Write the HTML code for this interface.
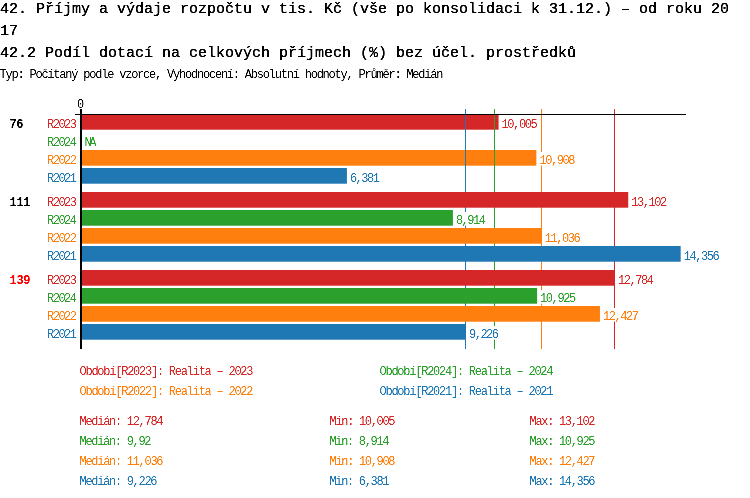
<!DOCTYPE html>
<html><head><meta charset="utf-8"><style>
html,body{margin:0;padding:0;background:#fff;width:750px;height:498px;overflow:hidden}
svg{display:block;will-change:transform}
text{font-family:"Liberation Mono",monospace;white-space:pre}
</style></head><body>
<svg width="750" height="498" viewBox="0 0 750 498">
<filter id="th" x="-0.1" y="-0.3" width="1.2" height="1.6"><feComponentTransfer><feFuncA type="discrete" tableValues="0 1"/></feComponentTransfer></filter>
<filter id="sh" x="-0.05" y="-0.3" width="1.1" height="1.6"><feComponentTransfer><feFuncA type="linear" slope="2" intercept="-0.5"/></feComponentTransfer></filter>
<text x="0" y="13" fill="#000" font-size="15" stroke="#000" stroke-width="0.3" textLength="729" lengthAdjust="spacing" filter="url(#sh)">42. Příjmy a výdaje rozpočtu v tis. Kč (vše po konsolidaci k 31.12.) – od roku 20</text>
<text x="0" y="35" fill="#000" font-size="15" stroke="#000" stroke-width="0.3" textLength="18" lengthAdjust="spacing" filter="url(#sh)">17</text>
<text x="0" y="57" fill="#000" font-size="15" stroke="#000" stroke-width="0.3" textLength="576" lengthAdjust="spacing" filter="url(#sh)">42.2 Podíl dotací na celkových příjmech (%) bez účel. prostředků</text>
<text x="-0.5" y="77.5" fill="#000" font-size="12.0" textLength="444" lengthAdjust="spacing" filter="url(#sh)">Typ: Počítaný podle vzorce, Vyhodnocení: Absolutní hodnoty, Průměr: Medián</text>
<text x="77.0" y="107.5" fill="#000" font-size="12.0" textLength="6" lengthAdjust="spacing" filter="url(#sh)">0</text>
<text x="9.5" y="127.5" fill="#000" font-size="12" font-weight="bold" textLength="14" lengthAdjust="spacing" filter="url(#sh)">76</text>
<text x="47" y="127.5" fill="#d62728" font-size="12.0" textLength="30" lengthAdjust="spacing" filter="url(#sh)">R2023</text>
<rect x="80" y="114" width="418.59" height="15.7" fill="#d62728"/>
<text x="47" y="145.5" fill="#2ca02c" font-size="12.0" textLength="30" lengthAdjust="spacing" filter="url(#sh)">R2024</text>
<text x="84.5" y="145.5" fill="#2ca02c" font-size="12.0" textLength="12" lengthAdjust="spacing" filter="url(#sh)">NA</text>
<text x="47" y="163.5" fill="#ff7f0e" font-size="12.0" textLength="30" lengthAdjust="spacing" filter="url(#sh)">R2022</text>
<rect x="80" y="150" width="456.38" height="15.7" fill="#ff7f0e"/>
<text x="47" y="181.5" fill="#1f77b4" font-size="12.0" textLength="30" lengthAdjust="spacing" filter="url(#sh)">R2021</text>
<rect x="80" y="168" width="266.92" height="15.7" fill="#1f77b4"/>
<rect x="465" y="109" width="1" height="240" fill="#1f77b4"/>
<rect x="494" y="109" width="1" height="240" fill="#2ca02c"/>
<rect x="541" y="109" width="1" height="240" fill="#ff7f0e"/>
<rect x="614" y="109" width="1" height="240" fill="#d62728"/>
<text x="9.5" y="205.5" fill="#000" font-size="12" font-weight="bold" textLength="21" lengthAdjust="spacing" filter="url(#sh)">111</text>
<text x="47" y="205.5" fill="#d62728" font-size="12.0" textLength="30" lengthAdjust="spacing" filter="url(#sh)">R2023</text>
<rect x="80" y="192" width="548.20" height="15.7" fill="#d62728"/>
<text x="47" y="223.5" fill="#2ca02c" font-size="12.0" textLength="30" lengthAdjust="spacing" filter="url(#sh)">R2024</text>
<rect x="80" y="210" width="372.93" height="15.7" fill="#2ca02c"/>
<text x="47" y="241.5" fill="#ff7f0e" font-size="12.0" textLength="30" lengthAdjust="spacing" filter="url(#sh)">R2022</text>
<rect x="80" y="228" width="461.74" height="15.7" fill="#ff7f0e"/>
<text x="47" y="259.5" fill="#1f77b4" font-size="12.0" textLength="30" lengthAdjust="spacing" filter="url(#sh)">R2021</text>
<rect x="80" y="246" width="600.68" height="15.7" fill="#1f77b4"/>
<text x="9.5" y="283.5" fill="#ff0000" font-size="12" font-weight="bold" textLength="21" lengthAdjust="spacing" filter="url(#sh)">139</text>
<text x="47" y="283.5" fill="#d62728" font-size="12.0" textLength="30" lengthAdjust="spacing" filter="url(#sh)">R2023</text>
<rect x="80" y="270" width="534.89" height="15.7" fill="#d62728"/>
<text x="47" y="301.5" fill="#2ca02c" font-size="12.0" textLength="30" lengthAdjust="spacing" filter="url(#sh)">R2024</text>
<rect x="80" y="288" width="457.09" height="15.7" fill="#2ca02c"/>
<text x="47" y="319.5" fill="#ff7f0e" font-size="12.0" textLength="30" lengthAdjust="spacing" filter="url(#sh)">R2022</text>
<rect x="80" y="306" width="519.95" height="15.7" fill="#ff7f0e"/>
<text x="47" y="337.5" fill="#1f77b4" font-size="12.0" textLength="30" lengthAdjust="spacing" filter="url(#sh)">R2021</text>
<rect x="80" y="324" width="385.99" height="15.7" fill="#1f77b4"/>
<rect x="501.1" y="116" width="38" height="13.6" fill="#fff"/>
<text x="501.6" y="127.5" fill="#d62728" font-size="12.0" textLength="36" lengthAdjust="spacing" filter="url(#sh)">10,005</text>
<rect x="538.9" y="152" width="38" height="13.6" fill="#fff"/>
<text x="539.4" y="163.5" fill="#ff7f0e" font-size="12.0" textLength="36" lengthAdjust="spacing" filter="url(#sh)">10,908</text>
<rect x="349.4" y="170" width="32" height="13.6" fill="#fff"/>
<text x="349.9" y="181.5" fill="#1f77b4" font-size="12.0" textLength="30" lengthAdjust="spacing" filter="url(#sh)">6,381</text>
<rect x="630.7" y="194" width="38" height="13.6" fill="#fff"/>
<text x="631.2" y="205.5" fill="#d62728" font-size="12.0" textLength="36" lengthAdjust="spacing" filter="url(#sh)">13,102</text>
<rect x="455.4" y="212" width="32" height="13.6" fill="#fff"/>
<text x="455.9" y="223.5" fill="#2ca02c" font-size="12.0" textLength="30" lengthAdjust="spacing" filter="url(#sh)">8,914</text>
<rect x="544.2" y="230" width="38" height="13.6" fill="#fff"/>
<text x="544.7" y="241.5" fill="#ff7f0e" font-size="12.0" textLength="36" lengthAdjust="spacing" filter="url(#sh)">11,036</text>
<rect x="683.2" y="248" width="38" height="13.6" fill="#fff"/>
<text x="683.7" y="259.5" fill="#1f77b4" font-size="12.0" textLength="36" lengthAdjust="spacing" filter="url(#sh)">14,356</text>
<rect x="617.4" y="272" width="38" height="13.6" fill="#fff"/>
<text x="617.9" y="283.5" fill="#d62728" font-size="12.0" textLength="36" lengthAdjust="spacing" filter="url(#sh)">12,784</text>
<rect x="539.6" y="290" width="38" height="13.6" fill="#fff"/>
<text x="540.1" y="301.5" fill="#2ca02c" font-size="12.0" textLength="36" lengthAdjust="spacing" filter="url(#sh)">10,925</text>
<rect x="602.4" y="308" width="38" height="13.6" fill="#fff"/>
<text x="602.9" y="319.5" fill="#ff7f0e" font-size="12.0" textLength="36" lengthAdjust="spacing" filter="url(#sh)">12,427</text>
<rect x="468.5" y="326" width="32" height="13.6" fill="#fff"/>
<text x="469.0" y="337.5" fill="#1f77b4" font-size="12.0" textLength="30" lengthAdjust="spacing" filter="url(#sh)">9,226</text>
<rect x="75" y="114" width="611" height="1" fill="#000"/>
<rect x="80" y="109" width="2" height="240" fill="#000"/>
<text x="79.5" y="374.5" fill="#d62728" font-size="12.0" textLength="174" lengthAdjust="spacing" filter="url(#sh)">Období[R2023]: Realita – 2023</text>
<text x="379.5" y="374.5" fill="#2ca02c" font-size="12.0" textLength="174" lengthAdjust="spacing" filter="url(#sh)">Období[R2024]: Realita – 2024</text>
<text x="79.5" y="394.5" fill="#ff7f0e" font-size="12.0" textLength="174" lengthAdjust="spacing" filter="url(#sh)">Období[R2022]: Realita – 2022</text>
<text x="379.5" y="394.5" fill="#1f77b4" font-size="12.0" textLength="174" lengthAdjust="spacing" filter="url(#sh)">Období[R2021]: Realita – 2021</text>
<text x="79.5" y="424.5" fill="#d62728" font-size="12.0" textLength="84" lengthAdjust="spacing" filter="url(#sh)">Medián: 12,784</text>
<text x="329.5" y="424.5" fill="#d62728" font-size="12.0" textLength="66" lengthAdjust="spacing" filter="url(#sh)">Min: 10,005</text>
<text x="529.5" y="424.5" fill="#d62728" font-size="12.0" textLength="66" lengthAdjust="spacing" filter="url(#sh)">Max: 13,102</text>
<text x="79.5" y="444.5" fill="#2ca02c" font-size="12.0" textLength="72" lengthAdjust="spacing" filter="url(#sh)">Medián: 9,92</text>
<text x="329.5" y="444.5" fill="#2ca02c" font-size="12.0" textLength="60" lengthAdjust="spacing" filter="url(#sh)">Min: 8,914</text>
<text x="529.5" y="444.5" fill="#2ca02c" font-size="12.0" textLength="66" lengthAdjust="spacing" filter="url(#sh)">Max: 10,925</text>
<text x="79.5" y="464.5" fill="#ff7f0e" font-size="12.0" textLength="84" lengthAdjust="spacing" filter="url(#sh)">Medián: 11,036</text>
<text x="329.5" y="464.5" fill="#ff7f0e" font-size="12.0" textLength="66" lengthAdjust="spacing" filter="url(#sh)">Min: 10,908</text>
<text x="529.5" y="464.5" fill="#ff7f0e" font-size="12.0" textLength="66" lengthAdjust="spacing" filter="url(#sh)">Max: 12,427</text>
<text x="79.5" y="484.5" fill="#1f77b4" font-size="12.0" textLength="78" lengthAdjust="spacing" filter="url(#sh)">Medián: 9,226</text>
<text x="329.5" y="484.5" fill="#1f77b4" font-size="12.0" textLength="60" lengthAdjust="spacing" filter="url(#sh)">Min: 6,381</text>
<text x="529.5" y="484.5" fill="#1f77b4" font-size="12.0" textLength="66" lengthAdjust="spacing" filter="url(#sh)">Max: 14,356</text>
</svg>
</body></html>
